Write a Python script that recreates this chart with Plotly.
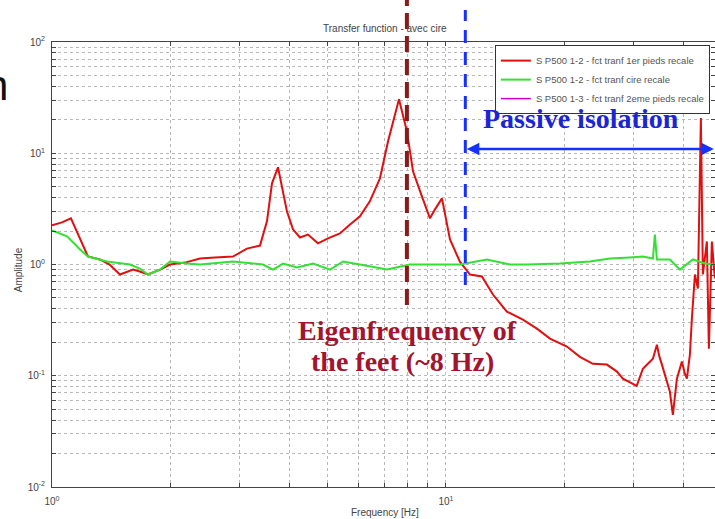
import numpy as np
import plotly.graph_objects as go

# ---- data ----
red_freq = [1.00, 1.06, 1.117, 1.178, 1.234, 1.324, 1.40, 1.488, 1.606, 1.67, 1.752, 1.88, 1.993,
            2.176, 2.375, 2.593, 2.88, 3.125, 3.373, 3.513, 3.618, 3.747, 3.949, 4.09, 4.26, 4.465,
            4.733, 5.02, 5.38, 5.71, 6.05, 6.41, 6.80, 7.13, 7.60, 7.96, 8.25, 8.69, 9.11, 9.38,
            9.77, 10.24, 10.85, 11.51, 12.34, 13.16, 14.28, 15.68, 17.02, 18.37, 19.5, 20.28,
            21.88, 23.61, 25.62, 27.17, 28.13, 29.84, 30.5, 31.62, 33.53, 34.32, 34.8, 35.34,
            36.2, 37.03, 37.68, 38.3, 38.58, 39.72, 40.4, 40.90, 41.62, 42.11, 42.86, 43.61,
            44.38, 44.90, 45.96, 46.5, 47.33, 48.17]
red_amp = [2.25, 2.39, 2.60, 1.68, 1.18, 1.11, 1.00, 0.813, 0.901, 0.865, 0.813, 0.90, 1.00,
           1.04, 1.13, 1.156, 1.18, 1.39, 1.48, 2.44, 5.37, 7.48, 3.00, 2.07, 1.75, 1.86,
           1.55, 1.72, 1.90, 2.29, 2.71, 3.70, 5.95, 12.8, 30.6, 15.8, 6.88, 4.10, 2.60, 3.13,
           3.93, 1.68, 1.06, 0.813, 0.780, 0.537, 0.377, 0.320, 0.265, 0.216, 0.195, 0.183,
           0.148, 0.128, 0.126, 0.109, 0.094, 0.0847, 0.081, 0.1156, 0.142, 0.190, 0.150, 0.126,
           0.095, 0.0718, 0.0445, 0.080, 0.094, 0.134, 0.105, 0.094, 0.155, 0.326, 0.813, 0.608,
           20.7, 0.813, 1.61, 0.175, 1.61, 0.748]

green_freq = [1.00, 1.092, 1.178, 1.234, 1.379, 1.578, 1.67, 1.752, 1.88, 1.993, 2.20, 2.375,
              2.88, 3.43, 3.64, 3.86, 4.19, 4.60, 5.08, 5.48, 6.05, 7.09, 8.10, 10.85, 12.71,
              14.53, 16.06, 19.47, 23.2, 26.09, 29.31, 31.62, 33.53, 33.92, 34.32, 37.03,
              39.27, 42.37, 45.44, 48.17]
green_amp = [2.02, 1.79, 1.365, 1.18, 1.064, 1.00, 0.92, 0.813, 0.90, 1.064, 1.02, 1.00,
             1.064, 1.00, 0.90, 1.02, 0.94, 1.02, 0.90, 1.064, 1.00, 0.90, 1.00, 1.00, 1.11,
             1.00, 1.00, 1.02, 1.064, 1.13, 1.156, 1.18, 1.13, 1.86, 1.11, 1.11,
             0.90, 1.11, 1.02, 1.00]

magenta_freq = []
magenta_amp = []

series_names = ["S P500 1-2 - fct tranf 1er pieds recale",
                "S P500 1-2 - fct tranf cire recale",
                "S P500 1-3 - fct tranf 2eme pieds recale"]

eigen_freq = 7.96        # dark red dashed marker
isolation_start = 11.2   # blue dashed marker
arrow_level = 10.9
x_max = 48.2

x_tickvals = [1, 2, 3, 4, 5, 6, 7, 8, 9, 10, 20, 30, 40]
x_ticktext = ["10<sup>0</sup>"] + [""] * 8 + ["10<sup>1</sup>", "", "", ""]
y_tickvals = [m * 10.0 ** e for e in (-2, -1, 0, 1) for m in range(1, 10)] + [100]
y_ticktext = []
for e in (-2, -1, 0, 1):
    y_ticktext += ["10<sup>%d</sup>" % e] + [""] * 8
y_ticktext += ["10<sup>2</sup>"]

fig = go.Figure()
fig.add_trace(go.Scatter(x=red_freq, y=red_amp, mode="lines", name=series_names[0],
                         line=dict(color="#e01010", width=2)))
fig.add_trace(go.Scatter(x=green_freq, y=green_amp, mode="lines", name=series_names[1],
                         line=dict(color="#33e033", width=2)))
fig.add_trace(go.Scatter(x=magenta_freq if magenta_freq else [None],
                         y=magenta_amp if magenta_amp else [None], mode="lines",
                         name=series_names[2], line=dict(color="#cc00cc", width=1.5)))

grid = dict(showgrid=True, gridcolor="#b8b8b8", griddash="dot", gridwidth=1,
            ticks="inside", ticklen=4, tickcolor="#444", showline=True, linecolor="#444",
            linewidth=1, mirror="ticks", zeroline=False,
            tickfont=dict(family="Liberation Sans", size=10, color="#444"))

fig.update_xaxes(type="log", range=[0, np.log10(x_max)], tickvals=x_tickvals,
                 ticktext=x_ticktext, ticklabelstandoff=5, **grid)
fig.update_yaxes(type="log", range=[-2, 2], tickvals=y_tickvals, ticktext=y_ticktext,
                 ticklabelstandoff=4, **grid)

fig.add_shape(type="line", xref="x", yref="paper", x0=eigen_freq, x1=eigen_freq,
              y0=0.409, y1=1.1, line=dict(color="#8b1a1a", width=4, dash="16px,7px"))
fig.add_shape(type="line", xref="x", yref="paper", x0=isolation_start, x1=isolation_start,
              y0=0.454, y1=1.072, line=dict(color="#1530ff", width=3, dash="13px,9px"))

fig.add_annotation(x=np.log10(x_max) - 0.003, y=np.log10(arrow_level), ax=np.log10(isolation_start),
                   ay=np.log10(arrow_level), xref="x", yref="y", axref="x", ayref="y",
                   text="", showarrow=True, arrowhead=2, arrowside="end+start",
                   arrowsize=1, arrowwidth=2.5, arrowcolor="#1530ff")
fig.add_annotation(x=1.343, y=1.31, xref="x", yref="y", text="<b>Passive isolation</b>",
                   showarrow=False, font=dict(family="Liberation Serif", size=28, color="#1a26d6"))
fig.add_annotation(x=0.902, y=-0.595, xref="x", yref="y",
                   text="<b>Eigenfrequency of</b>", showarrow=False,
                   font=dict(family="Liberation Serif", size=28, color="#a3152e"))
fig.add_annotation(x=0.891, y=-0.874, xref="x", yref="y",
                   text="<b>the feet (~8 Hz)</b>", showarrow=False,
                   font=dict(family="Liberation Serif", size=28, color="#a3152e"))

fig.add_annotation(x=0.502, y=1.047, xref="paper", yref="paper",
                   text="Transfer function - avec cire", showarrow=False,
                   font=dict(family="Liberation Sans", size=10, color="#444"))
fig.add_annotation(x=0.502, y=-0.074, xref="paper", yref="paper", text="Frequency [Hz]",
                   showarrow=False, font=dict(family="Liberation Sans", size=10, color="#444"))
fig.add_annotation(x=-0.062, y=0.488, xref="paper", yref="paper", text="Amplitude",
                   textangle=-90, showarrow=False,
                   font=dict(family="Liberation Sans", size=10, color="#444"))
fig.add_annotation(x=-0.063, y=0.96, xref="paper", yref="paper", xanchor="right", text="n",
                   showarrow=False, font=dict(family="Liberation Sans", size=42, color="#111"))

fig.update_layout(
    width=715, height=519,
    margin=dict(l=52, r=0, t=42, b=32),
    paper_bgcolor="white", plot_bgcolor="white",
    showlegend=True,
    legend=dict(x=0.668, y=0.993, xanchor="left", yanchor="top", bgcolor="white",
                bordercolor="#333", borderwidth=1,
                font=dict(family="Liberation Sans", size=9.5, color="#555"),
                tracegroupgap=0),
    hovermode=False,
)

fig.write_html("out.html",
               config={"displayModeBar": False, "staticPlot": True},
               post_script="document.body.style.margin='0';"
                           "document.body.style.overflow='hidden';"
                           "document.documentElement.style.overflow='hidden';")
